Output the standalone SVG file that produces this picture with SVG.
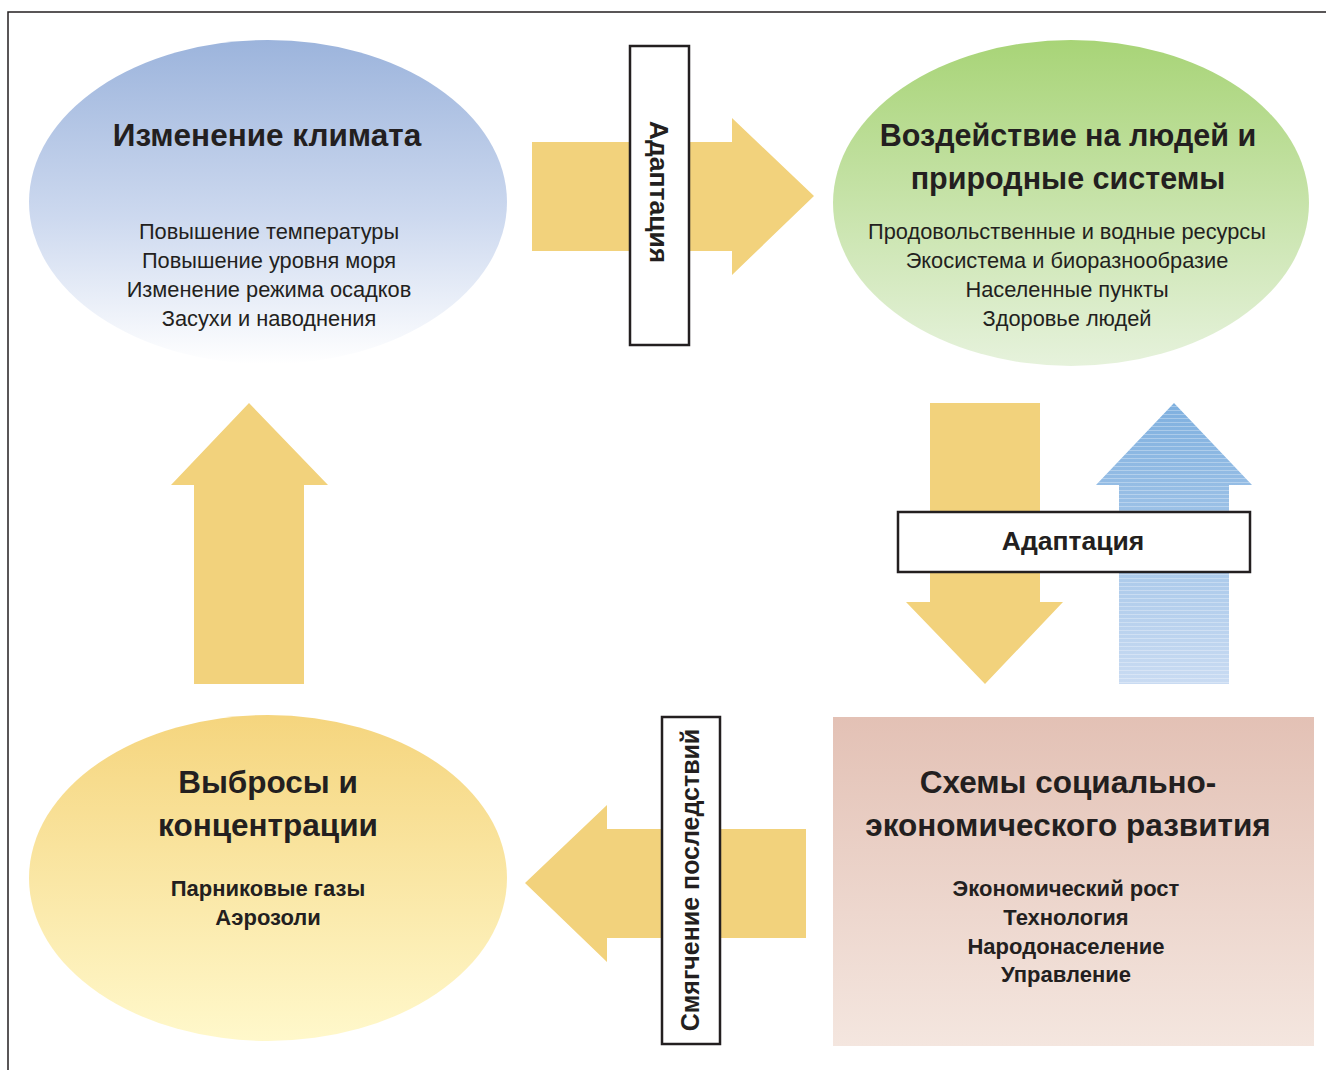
<svg xmlns="http://www.w3.org/2000/svg" width="1326" height="1070" viewBox="0 0 1326 1070">
<defs>
<linearGradient id="gBlue" x1="0" y1="0" x2="0" y2="1">
<stop offset="0" stop-color="#9cb4dc"/><stop offset="0.55" stop-color="#cdd9ef"/><stop offset="1" stop-color="#ffffff"/>
</linearGradient>
<linearGradient id="gGreen" x1="0" y1="0" x2="0" y2="1">
<stop offset="0" stop-color="#a8d477"/><stop offset="1" stop-color="#e6f2dc"/>
</linearGradient>
<linearGradient id="gYellow" x1="0" y1="0" x2="0" y2="1">
<stop offset="0" stop-color="#f5d57e"/><stop offset="1" stop-color="#fff8cb"/>
</linearGradient>
<linearGradient id="gPink" x1="0" y1="0" x2="0" y2="1">
<stop offset="0" stop-color="#e3c1b5"/><stop offset="1" stop-color="#f4e6df"/>
</linearGradient>
<linearGradient id="gArrowBlue" x1="0" y1="0" x2="0" y2="1">
<stop offset="0" stop-color="#7fb0df"/><stop offset="1" stop-color="#c9dbf2"/>
</linearGradient>
<pattern id="hatch" width="12" height="4" patternUnits="userSpaceOnUse">
<rect x="0" y="2" width="12" height="1" fill="#ffffff" opacity="0.3"/>
</pattern>
<style>
.ar{fill:#f2d27c}
.lbl{fill:#ffffff;stroke:#231f20;stroke-width:2.5}
.t{font-family:"Liberation Sans",Arial,sans-serif;fill:#231f20;text-anchor:middle}
.h{font-size:31.5px;font-weight:bold}
.h2{font-size:30.5px;font-weight:bold}
.n{font-size:21.8px}
.b{font-size:22px;font-weight:bold}
.lt{font-size:26.5px;font-weight:bold}
.lt2{font-size:25px;font-weight:bold}
</style>
</defs>
<rect x="8" y="12" width="1330" height="1070" fill="none" stroke="#231f20" stroke-width="1.5"/>

<g id="connectors">
<polygon class="ar" points="532,142 732,142 732,118 814,196 732,275 732,251 532,251"/>
<polygon class="ar" points="194,684 194,485 171,485 249,403 328,485 304,485 304,684"/>
<polygon class="ar" points="930,403 1040,403 1040,602 1063,602 985,684 906,602 930,602"/>
<polygon points="1119,684 1119,485 1096,485 1174,403 1252,485 1229,485 1229,684" fill="url(#gArrowBlue)"/>
<polygon points="1119,684 1119,485 1096,485 1174,403 1252,485 1229,485 1229,684" fill="url(#hatch)"/>
<polygon class="ar" points="806,829 607,829 607,805 525,883 607,962 607,938 806,938"/>
</g>

<g id="label-adapt-top">
<rect class="lbl" x="630" y="46" width="59" height="299"/>
<text class="t lt" transform="translate(650,192) rotate(90)">Адаптация</text>
</g>
<g id="label-adapt-right">
<rect class="lbl" x="898" y="512" width="352" height="60"/>
<text class="t lt" x="1073" y="550">Адаптация</text>
</g>
<g id="label-mitigation">
<rect class="lbl" x="662" y="717" width="58" height="327"/>
<text class="t lt2" transform="translate(699,880) rotate(-90)">Смягчение последствий</text>
</g>

<g id="node-climate">
<ellipse cx="268" cy="202" rx="239" ry="162" fill="url(#gBlue)"/>
<text class="t h" x="267" y="146">Изменение климата</text>
<text class="t n" x="269" y="239">Повышение температуры</text>
<text class="t n" x="269" y="268">Повышение уровня моря</text>
<text class="t n" x="269" y="297">Изменение режима осадков</text>
<text class="t n" x="269" y="326">Засухи и наводнения</text>
</g>

<g id="node-impacts">
<ellipse cx="1071" cy="203" rx="238" ry="163" fill="url(#gGreen)"/>
<text class="t h2" x="1068" y="146">Воздействие на людей и</text>
<text class="t h2" x="1068" y="189">природные системы</text>
<text class="t n" x="1067" y="239">Продовольственные и водные ресурсы</text>
<text class="t n" x="1067" y="268">Экосистема и биоразнообразие</text>
<text class="t n" x="1067" y="297">Населенные пункты</text>
<text class="t n" x="1067" y="326">Здоровье людей</text>
</g>

<g id="node-emissions">
<ellipse cx="268" cy="878" rx="239" ry="163" fill="url(#gYellow)"/>
<text class="t h" x="268" y="793">Выбросы и</text>
<text class="t h" x="268" y="836">концентрации</text>
<text class="t b" x="268" y="896">Парниковые газы</text>
<text class="t b" x="268" y="925">Аэрозоли</text>
</g>

<g id="node-socio">
<rect x="833" y="717" width="481" height="329" fill="url(#gPink)"/>
<text class="t h" x="1068" y="793">Схемы социально-</text>
<text class="t h" x="1068" y="836">экономического развития</text>
<text class="t b" x="1066" y="896">Экономический рост</text>
<text class="t b" x="1066" y="925">Технология</text>
<text class="t b" x="1066" y="954">Народонаселение</text>
<text class="t b" x="1066" y="982">Управление</text>
</g>
</svg>
